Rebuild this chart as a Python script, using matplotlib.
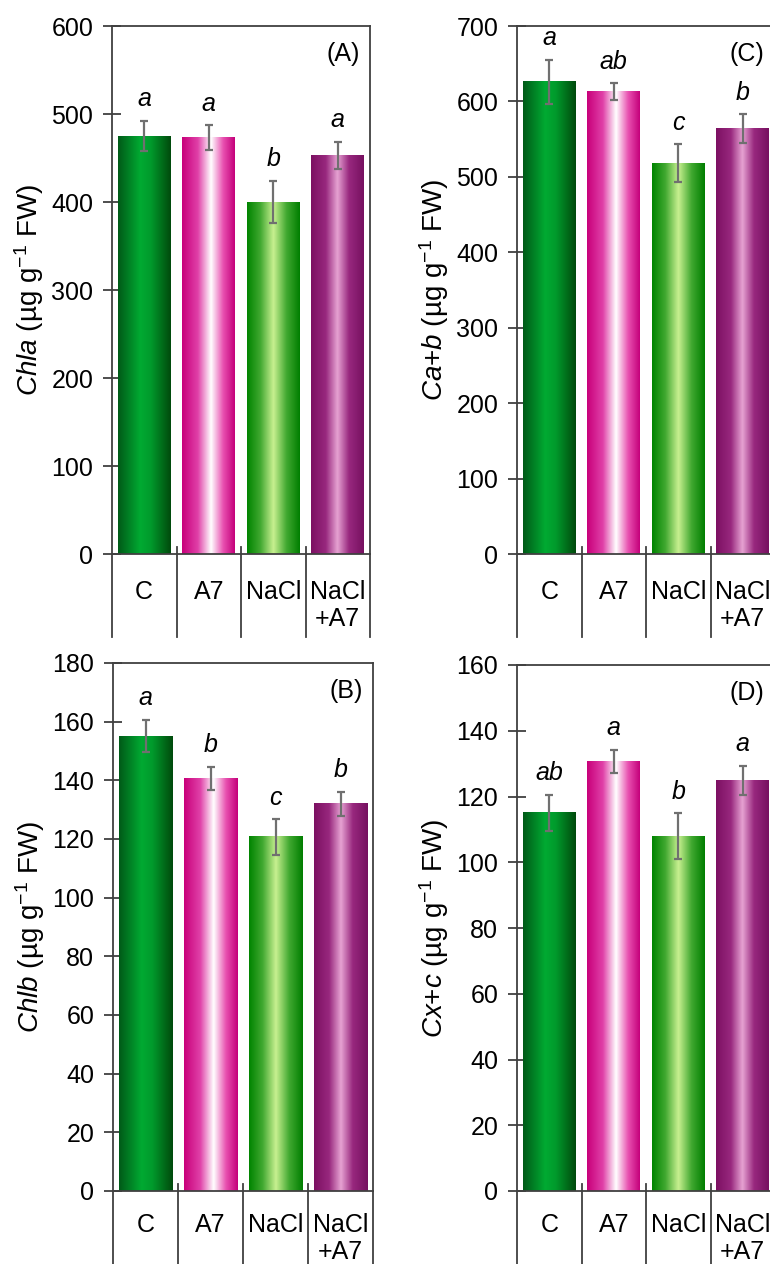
import numpy as np
import matplotlib
matplotlib.use('Agg')
import matplotlib.pyplot as plt
from matplotlib.colors import LinearSegmentedColormap
import matplotlib.transforms as mtransforms

plt.rcParams['font.family'] = ['Liberation Sans', 'DejaVu Sans']
plt.rcParams['mathtext.fontset'] = 'custom'
plt.rcParams['mathtext.rm'] = 'Liberation Sans'
plt.rcParams['mathtext.it'] = 'Liberation Sans:italic'

# data
categories = ['C', 'A7', 'NaCl', 'NaCl\n+A7']

chla = [475, 473, 400, 453]
chla_err = [17, 14, 24, 15]
chla_sig = ['a', 'a', 'b', 'a']

chlb = [155, 140.7, 120.7, 132]
chlb_err = [5.5, 4, 6, 4]
chlb_sig = ['a', 'b', 'c', 'b']

cab = [626, 613, 518, 564]
cab_err = [29, 11, 25, 19]
cab_sig = ['a', 'ab', 'c', 'b']

cxc = [115.1, 130.6, 107.9, 124.9]
cxc_err = [5.5, 3.5, 7, 4.5]
cxc_sig = ['ab', 'a', 'b', 'a']

# gradient fills for the four treatments
grads = [
    [(0, '#005a18'), (0.42, '#00aa32'), (0.62, '#009a2c'), (1, '#004a0c')],
    [(0, '#c8007a'), (0.3, '#e040a8'), (0.55, '#ffffff'), (0.78, '#e850b0'), (1, '#c4007a')],
    [(0, '#008400'), (0.25, '#40a830'), (0.5, '#c8f090'), (0.75, '#40a830'), (1, '#007e00')],
    [(0, '#7c1062'), (0.28, '#98287e'), (0.5, '#e6a2d2'), (0.72, '#98287e'), (1, '#761060')],
]
cmaps = [LinearSegmentedColormap.from_list('g%d' % i, g) for i, g in enumerate(grads)]

W, H = 770, 1264
fig = plt.figure(figsize=(W / 100, H / 100), dpi=100)

spine_col = '#404040'


def panel(rect, vals, errs, sigs, ymax, step, ylabel, tag, drop, xpad):
    left, top, right, bottom = rect
    ax = fig.add_axes([left / W, 1 - bottom / H, (right - left) / W, (bottom - top) / H])
    x = np.arange(len(vals)) + 0.5
    bw = 0.82
    grad = np.linspace(0, 1, 256).reshape(1, -1)
    for i, (xi, v) in enumerate(zip(x, vals)):
        ax.imshow(grad, cmap=cmaps[i], aspect='auto', interpolation='bilinear',
                  extent=[xi - bw / 2, xi + bw / 2, 0, v], zorder=2)
    ax.errorbar(x, vals, yerr=errs, fmt='none', ecolor='#707070', elinewidth=1.6,
                capsize=3, capthick=1.6, zorder=3)
    for xi, v, e, s in zip(x, vals, errs, sigs):
        ax.annotate(s, (xi, v + e), xytext=(0, 7), textcoords='offset points',
                    ha='center', va='bottom', fontsize=18, style='italic')
    ax.set_xlim(0, 4)
    ax.set_ylim(0, ymax)
    ax.set_yticks(np.arange(0, ymax + 1, step))
    ax.tick_params(axis='y', direction='inout', length=13, width=1.3,
                   color=spine_col, labelsize=18, pad=7)
    ax.set_xticks(x)
    ax.set_xticklabels(categories, fontsize=18, linespacing=1.15, va='top')
    ax.tick_params(axis='x', length=0, pad=xpad)
    for sp in ax.spines.values():
        sp.set_color(spine_col)
        sp.set_linewidth(1.3)
    ax.set_ylabel(ylabel, fontsize=20, labelpad=4)
    ax.text(0.96, 0.97, tag, transform=ax.transAxes, ha='right', va='top', fontsize=18)
    # separator lines under the category axis
    trans = mtransforms.blended_transform_factory(ax.transData, ax.transAxes)
    hpx = bottom - top
    for xb in range(5):
        y0 = 0 if xb in (0, 4) else 7 / hpx
        ax.plot([xb, xb], [y0, -drop / hpx], transform=trans, color=spine_col,
                lw=1.3, clip_on=False, zorder=5)
    return ax


panel((112, 26, 370, 554), chla, chla_err, chla_sig, 600, 100,
      r'$\mathit{Chla}$ (µg g$^{-1}$ FW)', '(A)', 83, 19)
panel((517, 26, 775, 554), cab, cab_err, cab_sig, 700, 100,
      r'$\mathit{Ca{+}b}$ (µg g$^{-1}$ FW)', '(C)', 83, 19)
panel((113, 663, 373, 1191), chlb, chlb_err, chlb_sig, 180, 20,
      r'$\mathit{Chlb}$ (µg g$^{-1}$ FW)', '(B)', 80, 16)
panel((517, 665, 775, 1191), cxc, cxc_err, cxc_sig, 160, 20,
      r'$\mathit{Cx{+}c}$ (µg g$^{-1}$ FW)', '(D)', 80, 16)

fig.savefig('out.png', dpi=100)
